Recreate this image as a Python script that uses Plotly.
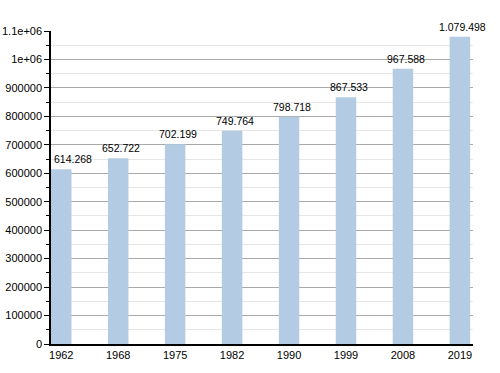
import plotly.graph_objects as go

years = ["1962", "1968", "1975", "1982", "1990", "1999", "2008", "2019"]
population = [614268, 652722, 702199, 749764, 798718, 867533, 967588, 1079498]
labels = ["614.268", "652.722", "702.199", "749.764", "798.718", "867.533", "967.588", "1.079.498"]
ytick_vals = [0, 100000, 200000, 300000, 400000, 500000, 600000, 700000, 800000, 900000, 1000000, 1100000]
ytick_text = ["0", "100000", "200000", "300000", "400000", "500000", "600000", "700000", "800000", "900000", "1e+06", "1.1e+06"]

xpos = list(range(len(years)))

fig = go.Figure(go.Bar(
    x=xpos, y=population,
    marker=dict(color="#b3cce4", line=dict(width=0)),
    width=0.36, hoverinfo="x+y",
))
for i, (xv, yv, lab) in enumerate(zip(xpos, population, labels)):
    fig.add_annotation(
        x=xv, y=yv, text=lab, showarrow=False,
        xanchor="center", yanchor="bottom",
        xshift=3 if i else 12, yshift=2,
        font=dict(size=10.5, color="black"),
    )
fig.update_layout(
    width=500, height=373,
    margin=dict(l=51, r=27, t=31, b=29, autoexpand=False),
    plot_bgcolor="white", paper_bgcolor="white",
    font=dict(family="Liberation Sans, Arial, sans-serif", size=11, color="black"),
    showlegend=False,
)
fig.update_xaxes(
    range=[-0.18, 7.23], tickvals=xpos, ticktext=years,
    showline=True, linecolor="black", linewidth=1.5, ticks="", showgrid=False,
    tickfont=dict(size=11), automargin=False,
)
fig.update_yaxes(
    range=[0, 1100000], tickvals=ytick_vals, ticktext=ytick_text,
    showline=True, linecolor="black", linewidth=1.5,
    ticks="outside", ticklen=5, tickcolor="black",
    showgrid=True, gridcolor="#aaaaaa", gridwidth=1,
    zeroline=False, automargin=False,
    minor=dict(dtick=50000, showgrid=True, gridcolor="#e6e6e6", ticks="outside", ticklen=3, tickcolor="black"),
    tickfont=dict(size=11),
)
fig.write_html("out.html", config={"displayModeBar": False},
               post_script="document.body.style.margin='0';")
